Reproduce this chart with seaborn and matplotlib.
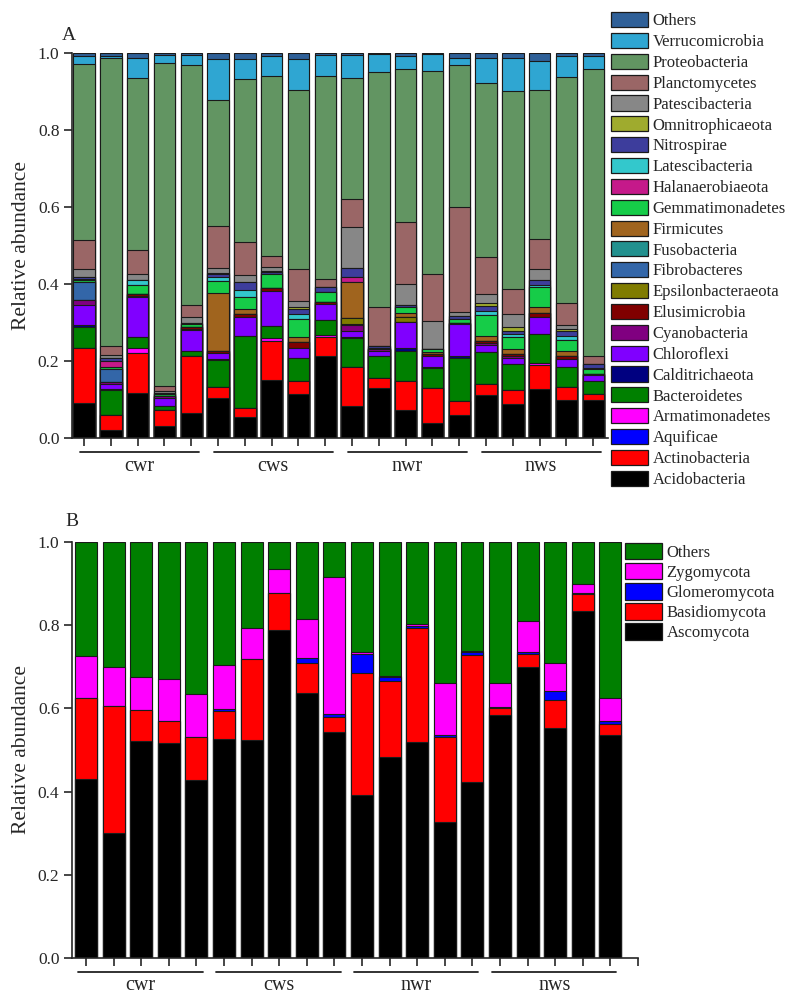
import matplotlib
matplotlib.use('Agg')
import matplotlib.pyplot as plt
from matplotlib.patches import Patch
import seaborn as sns
import pandas as pd

sns.set_style('ticks')
plt.rcParams['font.family'] = ['Liberation Serif', 'DejaVu Serif']

groups = ['cwr', 'cws', 'nwr', 'nws']
samples = [f'{g}{i}' for g in groups for i in range(1, 6)]

# ---- Panel A: bacterial phyla (relative abundance per sample) ----
acidobacteria = [0.090, 0.022, 0.118, 0.032, 0.064, 0.105, 0.055, 0.150, 0.114, 0.213,
                 0.084, 0.129, 0.072, 0.040, 0.059, 0.111, 0.088, 0.126, 0.100, 0.099]
actinobacteria = [0.143, 0.038, 0.103, 0.040, 0.150, 0.028, 0.022, 0.102, 0.034, 0.050,
                  0.101, 0.027, 0.077, 0.090, 0.038, 0.030, 0.037, 0.064, 0.033, 0.014]
aquificae = [0, 0, 0, 0, 0, 0, 0, 0, 0, 0, 0, 0, 0, 0, 0, 0, 0, 0, 0, 0]
armatimonadetes = [0, 0, 0.012, 0, 0, 0, 0, 0.007, 0, 0.004,
                   0, 0, 0, 0, 0, 0, 0, 0.004, 0, 0]
bacteroidetes = [0.056, 0.064, 0.030, 0.010, 0.012, 0.069, 0.188, 0.033, 0.059, 0.040,
                 0.074, 0.057, 0.078, 0.051, 0.110, 0.082, 0.066, 0.075, 0.052, 0.036]
calditrichaeota = [0.004, 0.002, 0, 0, 0, 0.002, 0, 0, 0.002, 0,
                   0.003, 0, 0.008, 0.003, 0.006, 0, 0.002, 0, 0, 0]
chloroflexi = [0.052, 0.013, 0.104, 0.022, 0.054, 0.017, 0.048, 0.090, 0.024, 0.040,
               0.017, 0.014, 0.066, 0.030, 0.084, 0.019, 0.016, 0.044, 0.019, 0.014]
cyanobacteria = [0.013, 0.006, 0.003, 0.004, 0.004, 0, 0, 0, 0, 0,
                 0.014, 0.003, 0, 0, 0, 0.004, 0.003, 0, 0, 0]
elusimicrobia = [0, 0, 0.003, 0, 0.004, 0.005, 0.010, 0.008, 0.017, 0.006,
                 0.004, 0, 0, 0.003, 0.003, 0.007, 0.007, 0.012, 0.008, 0.004]
epsilonbacteraeota = [0, 0, 0, 0, 0, 0, 0, 0, 0, 0,
                      0.014, 0, 0.012, 0, 0, 0, 0, 0, 0, 0]
fibrobacteres = [0.048, 0.035, 0, 0, 0, 0, 0, 0, 0, 0,
                 0, 0, 0, 0, 0, 0, 0, 0, 0, 0]
fusobacteria = [0, 0, 0, 0, 0, 0, 0, 0, 0, 0, 0, 0, 0, 0, 0, 0, 0, 0, 0, 0]
firmicutes = [0, 0, 0, 0, 0, 0.150, 0.012, 0, 0.013, 0,
              0.095, 0, 0.012, 0.006, 0, 0.013, 0.013, 0.015, 0.013, 0]
gemmatimonadetes = [0.004, 0.005, 0.025, 0.006, 0.008, 0.032, 0.031, 0.036, 0.046, 0.026,
                    0, 0.004, 0.016, 0.007, 0.008, 0.054, 0.031, 0.053, 0.029, 0.012]
halanaerobiaeota = [0, 0.015, 0, 0, 0, 0, 0, 0, 0, 0,
                    0.012, 0, 0, 0, 0, 0, 0, 0, 0, 0]
latescibacteria = [0.004, 0, 0.012, 0, 0, 0.010, 0.018, 0, 0.013, 0,
                   0, 0, 0, 0, 0, 0.011, 0.008, 0.004, 0.012, 0.003]
nitrospirae = [0.004, 0.008, 0, 0.004, 0.004, 0.008, 0.020, 0.004, 0.013, 0.012,
               0.024, 0.005, 0.005, 0, 0.008, 0.013, 0.008, 0.013, 0.012, 0.010]
omnitrophicaeota = [0, 0, 0, 0, 0, 0.003, 0, 0.004, 0.006, 0,
                    0, 0, 0, 0, 0, 0.006, 0.010, 0, 0.004, 0]
patescibacteria = [0.020, 0.007, 0.016, 0.004, 0.013, 0.012, 0.020, 0.010, 0.016, 0,
                   0.105, 0, 0.054, 0.074, 0.010, 0.025, 0.034, 0.029, 0.011, 0]
planctomycetes = [0.076, 0.024, 0.062, 0.014, 0.033, 0.110, 0.084, 0.028, 0.082, 0.021,
                  0.074, 0.100, 0.162, 0.122, 0.275, 0.096, 0.065, 0.078, 0.058, 0.021]
proteobacteria = [0.457, 0.748, 0.446, 0.837, 0.623, 0.327, 0.424, 0.469, 0.465, 0.527,
                  0.314, 0.611, 0.396, 0.528, 0.367, 0.452, 0.514, 0.387, 0.586, 0.745]
verrucomicrobia = [0.021, 0.005, 0.054, 0.022, 0.026, 0.106, 0.053, 0.050, 0.081, 0.056,
                   0.060, 0.047, 0.033, 0.043, 0.019, 0.064, 0.086, 0.075, 0.056, 0.035]
others_bac = [0.008, 0.008, 0.012, 0.005, 0.005, 0.016, 0.015, 0.009, 0.015, 0.005,
              0.005, 0.003, 0.009, 0.003, 0.013, 0.013, 0.012, 0.021, 0.007, 0.007]

# stacking order, bottom to top
bac_names = ['Acidobacteria', 'Actinobacteria', 'Aquificae', 'Armatimonadetes',
             'Bacteroidetes', 'Calditrichaeota', 'Chloroflexi', 'Cyanobacteria',
             'Elusimicrobia', 'Epsilonbacteraeota', 'Fibrobacteres', 'Fusobacteria',
             'Firmicutes', 'Gemmatimonadetes', 'Halanaerobiaeota', 'Latescibacteria',
             'Nitrospirae', 'Omnitrophicaeota', 'Patescibacteria', 'Planctomycetes',
             'Proteobacteria', 'Verrucomicrobia', 'Others']
bac_values = [acidobacteria, actinobacteria, aquificae, armatimonadetes, bacteroidetes,
              calditrichaeota, chloroflexi, cyanobacteria, elusimicrobia, epsilonbacteraeota,
              fibrobacteres, fusobacteria, firmicutes, gemmatimonadetes, halanaerobiaeota,
              latescibacteria, nitrospirae, omnitrophicaeota, patescibacteria, planctomycetes,
              proteobacteria, verrucomicrobia, others_bac]
bac_colors = ['#000000', '#ff0000', '#0000ff', '#ff00ff', '#008000', '#000080', '#8000ff',
              '#800080', '#800000', '#807c00', '#3366a8', '#22918f', '#a0641e', '#16cc48',
              '#c5198a', '#33c8cc', '#3d3d9c', '#9fab2e', '#878787', '#9a6666', '#629562',
              '#2fa6d2', '#2f6098']

# ---- Panel B: fungal phyla ----
ascomycota = [0.430, 0.300, 0.521, 0.516, 0.428, 0.526, 0.523, 0.789, 0.638, 0.544,
              0.392, 0.482, 0.520, 0.328, 0.424, 0.583, 0.699, 0.554, 0.833, 0.535]
basidiomycota = [0.194, 0.306, 0.074, 0.054, 0.104, 0.068, 0.196, 0.089, 0.072, 0.035,
                 0.294, 0.185, 0.273, 0.204, 0.305, 0.017, 0.032, 0.066, 0.041, 0.028]
glomeromycota = [0, 0, 0, 0, 0, 0.004, 0, 0, 0.010, 0.007,
                 0.045, 0.008, 0.006, 0.005, 0.006, 0.004, 0.004, 0.022, 0.004, 0.006]
zygomycota = [0.101, 0.093, 0.081, 0.101, 0.102, 0.107, 0.074, 0.056, 0.094, 0.331,
              0.005, 0.004, 0.004, 0.123, 0.004, 0.056, 0.076, 0.067, 0.020, 0.056]
others_fungi = [0.275, 0.301, 0.324, 0.329, 0.366, 0.295, 0.207, 0.066, 0.186, 0.083,
                0.264, 0.321, 0.197, 0.340, 0.261, 0.340, 0.189, 0.291, 0.102, 0.376]

fun_names = ['Ascomycota', 'Basidiomycota', 'Glomeromycota', 'Zygomycota', 'Others']
fun_values = [ascomycota, basidiomycota, glomeromycota, zygomycota, others_fungi]
fun_colors = ['#000000', '#ff0000', '#0000ff', '#ff00ff', '#007f00']

W, H = 795, 1007
fig = plt.figure(figsize=(W / 100, H / 100), dpi=100)


def stacked(ax, names, values, colors):
    df = pd.DataFrame(dict(zip(names, values)))
    df['sample'] = samples
    cum = df[names].cumsum(axis=1)
    # draw cumulative bars from the top layer down so each layer covers the one above
    for name, col in reversed(list(zip(names, colors))):
        sns.barplot(x=df['sample'], y=cum[name], color=col, saturation=1, width=0.8,
                    errorbar=None, edgecolor='#1a1a1a', linewidth=0.8, ax=ax)


def style_axis(ax, xlim, nticks, line_span, line_y, label_y, label_off):
    ax.set_xlim(*xlim)
    ax.set_ylim(0, 1.0)
    ax.set_xticks(range(nticks))
    ax.set_xticklabels([])
    ax.set_yticks([0, 0.2, 0.4, 0.6, 0.8, 1.0])
    ax.set_yticklabels(['0.0', '0.2', '0.4', '0.6', '0.8', '1.0'])
    ax.set_xlabel('')
    ax.set_ylabel('Relative abundance', fontsize=15.5)
    sns.despine(ax=ax)
    for s in ['left', 'bottom']:
        ax.spines[s].set_linewidth(1.2)
    ax.tick_params(axis='both', direction='out', length=6, width=1.2, labelsize=12.5, pad=3)
    tr = ax.get_xaxis_transform()
    for g, name in enumerate(groups):
        ax.plot([5 * g + line_span[0], 5 * g + line_span[1]], [line_y, line_y],
                color='#222222', lw=1.3, transform=tr, clip_on=False)
        ax.text(5 * g + label_off, label_y, name, transform=tr, ha='center', va='center',
                fontsize=14.5)


# Panel A
axA = fig.add_axes([72 / W, 1 - 438 / H, (608 - 72) / W, 385 / H])
stacked(axA, bac_names, bac_values, bac_colors)
style_axis(axA, (-0.45, 19.55), 20, (-0.17, 4.28), -0.036, -0.075, 2.05)
axA.yaxis.set_label_coords(-0.077, 0.5)
fig.text(62 / W, 1 - 36 / H, 'A', fontsize=14, va='center', ha='left')

handles = [Patch(facecolor=c, edgecolor='#1a1a1a', linewidth=0.9, label=n)
           for n, c in zip(bac_names, bac_colors)][::-1]
fig.legend(handles=handles, loc='upper left', bbox_to_anchor=(611 / W, 1 - 12 / H),
           frameon=False, fontsize=12, borderpad=0, borderaxespad=0,
           handlelength=2.2, handleheight=1.02, handletextpad=0.3, labelspacing=0.215)

# Panel B
axB = fig.add_axes([72 / W, 1 - 958 / H, (638 - 72) / W, 416 / H])
stacked(axB, fun_names, fun_values, fun_colors)
style_axis(axB, (-0.51, 20.0), 21, (-0.28, 4.22), -0.034, -0.065, 1.97)
axB.yaxis.set_label_coords(-0.073, 0.5)
fig.text(65 / W, 1 - 522 / H, 'B', fontsize=14, va='center', ha='left')

handles = [Patch(facecolor=c, edgecolor='#1a1a1a', linewidth=0.9, label=n)
           for n, c in zip(fun_names, fun_colors)][::-1]
fig.legend(handles=handles, loc='upper left', bbox_to_anchor=(625 / W, 1 - 543 / H),
           frameon=False, fontsize=12, borderpad=0, borderaxespad=0,
           handlelength=2.2, handleheight=1.14, handletextpad=0.3, labelspacing=0.13)

fig.savefig('out.png', dpi=100)
